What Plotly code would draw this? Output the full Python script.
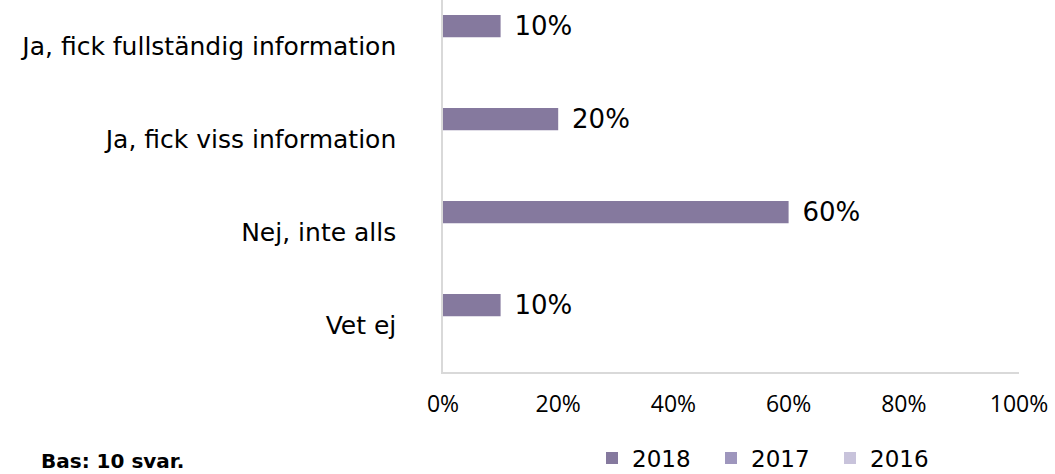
import plotly.graph_objects as go

categories = ["Ja, fick fullständig information", "Ja, fick viss information", "Nej, inte alls", "Vet ej"]
series_names = ["2018", "2017", "2016"]
values_2018 = [0.10, 0.20, 0.60, 0.10]
values_2017 = [None, None, None, None]
values_2016 = [None, None, None, None]
x_ticks = [0, 0.2, 0.4, 0.6, 0.8, 1.0]
x_tick_labels = ["0%", "20%", "40%", "60%", "80%", "100%"]
colors = ["#85799e", "#9e96bd", "#c8c3db"]

FONT = "DejaVu Sans, sans-serif"

W, H = 1055, 474
L, R, T, B = 443, 36, 0, 102
ph = H - T - B
pw = W - L - R

fig = go.Figure()
for i, (name, vals, col) in enumerate(zip(series_names, [values_2018, values_2017, values_2016], colors)):
    fig.add_trace(go.Bar(
        y=categories, x=vals, name=name, orientation="h",
        width=0.24, offset=-0.34 + 0.24 * i,
        marker=dict(color=col, line=dict(width=0)),
        texttemplate="\u00a0\u200a%{x:.0%}",
        textposition="outside", cliponaxis=False, constraintext="none",
        textfont=dict(family=FONT, size=26, color="#000000"),
    ))

py = lambda p: -(p - (T + ph)) / ph
px = lambda p: (p - L) / pw

fig.update_layout(
    width=W, height=H,
    margin=dict(l=L, r=R, t=T, b=B, autoexpand=False),
    barmode="overlay",
    plot_bgcolor="white", paper_bgcolor="white",
    font=dict(family=FONT, color="#000000"),
    showlegend=True,
    legend=dict(orientation="h", x=px(592), xanchor="left",
                y=py(458), yanchor="middle",
                font=dict(family=FONT, size=23), traceorder="normal",
                itemwidth=30, entrywidth=74, bgcolor="rgba(0,0,0,0)"),
    xaxis=dict(range=[0, 1], tickvals=x_ticks, ticktext=x_tick_labels,
               showgrid=False, zeroline=False, showline=True, linecolor="#d9d9d9",
               linewidth=1.5, ticks="", ticklabelstandoff=11,
               tickfont=dict(family="Open Sans, sans-serif", size=23)),
    yaxis=dict(autorange="reversed", showgrid=False, zeroline=False, showline=True,
               linecolor="#d9d9d9", linewidth=1.5, ticks="", ticklabelstandoff=40,
               tickfont=dict(family=FONT, size=25)),
    annotations=[dict(text="<b>Bas: 10 svar.</b>", xref="paper", yref="paper",
                      x=px(40), y=py(461), xanchor="left", borderpad=0,
                      yanchor="middle", showarrow=False,
                      font=dict(family=FONT, size=20))],
)
fig.write_html("out.html", config={"displayModeBar": False},
               post_script="document.body.style.margin='0';document.body.style.overflow='hidden';")
